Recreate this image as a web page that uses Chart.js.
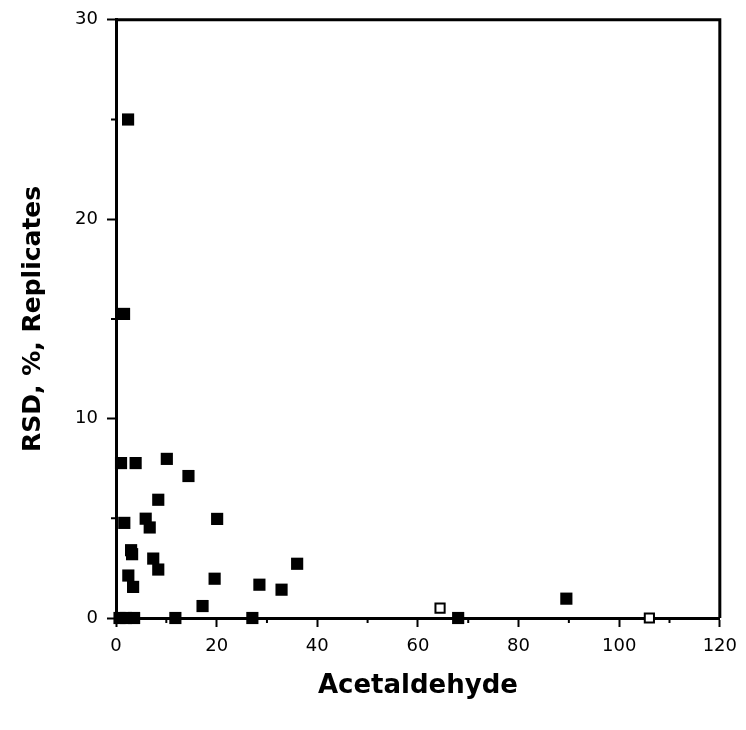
<!DOCTYPE html>
<html>
<head>
<meta charset="utf-8">
<script src="https://cdn.jsdelivr.net/npm/chart.js@4"></script>
<style>
  html, body { margin: 0; padding: 0; background: #fff; }
  #wrap { width: 746px; height: 730px; position: relative; }
</style>
</head>
<body>
<div id="wrap"><canvas id="chart"></canvas></div>
<script>
// Acetaldehyde vs RSD (%) of replicates
const xFilled = [2.4, 1.6, 1.0, 3.9, 10.1, 14.4, 8.4, 1.65, 5.9, 6.7, 20.1,
  3.0, 3.2, 7.4, 8.4, 2.45, 3.4, 19.6, 28.5, 32.9, 36.0, 17.2,
  11.8, 27.1, 0.7, 2.0, 3.6, 68.0, 89.5];
const yFilled = [25.0, 15.25, 7.77, 7.77, 7.98, 7.12, 5.93, 4.77, 4.98, 4.54, 4.97,
  3.4, 3.2, 2.98, 2.43, 2.13, 1.56, 1.97, 1.67, 1.42, 2.72, 0.6,
  0, 0, 0, 0, 0, 0, 0.97];
const xOpen = [64.4, 106.0];
const yOpen = [0.5, 0];

const xTicks = [0, 20, 40, 60, 80, 100, 120];
const yTicks = [0, 10, 20, 30];

function toPoints(xs, ys) {
  return xs.map(function(x, i) { return { x: x, y: ys[i] }; });
}

// ticks menores + moldura superior/direita
const framePlugin = {
  id: 'frame',
  afterDraw: function(chart) {
    const ctx = chart.ctx;
    const a = chart.chartArea;
    const sx = chart.scales.x;
    const sy = chart.scales.y;
    ctx.save();
    ctx.strokeStyle = '#000';
    ctx.lineWidth = 3;
    ctx.beginPath();
    ctx.moveTo(a.left, a.top);
    ctx.lineTo(a.right, a.top);
    ctx.lineTo(a.right, a.bottom);
    ctx.stroke();
    ctx.lineWidth = 2;
    ctx.beginPath();
    for (let v = 10; v < 120; v += 20) {
      const px = sx.getPixelForValue(v);
      ctx.moveTo(px, a.bottom);
      ctx.lineTo(px, a.bottom + 5);
    }
    for (let v = 5; v < 30; v += 10) {
      const py = sy.getPixelForValue(v);
      ctx.moveTo(a.left, py);
      ctx.lineTo(a.left - 5, py);
    }
    ctx.stroke();
    ctx.restore();
  }
};

new Chart(document.getElementById('chart'), {
  type: 'scatter',
  data: {
    datasets: [{
      label: 'filled',
      data: toPoints(xFilled, yFilled),
      pointStyle: 'rect',
      pointRadius: 8.6,
      backgroundColor: '#000',
      borderColor: '#000',
      borderWidth: 0,
      clip: false
    }, {
      label: 'open',
      data: toPoints(xOpen, yOpen),
      pointStyle: 'rect',
      pointRadius: 6.5,
      backgroundColor: '#fff',
      borderColor: '#000',
      borderWidth: 2,
      clip: false
    }]
  },
  options: {
    responsive: true,
    maintainAspectRatio: false,
    animation: false,
    layout: { padding: { left: 0, right: 22, top: 14, bottom: 0 } },
    plugins: {
      legend: { display: false },
      tooltip: { enabled: false }
    },
    scales: {
      x: {
        type: 'linear',
        min: 0,
        max: 120,
        afterBuildTicks: function(scale) {
          scale.ticks = xTicks.map(function(v) { return { value: v }; });
        },
        afterFit: function(scale) { scale.height = 112; },
        border: { color: '#000', width: 3 },
        grid: { drawOnChartArea: false, tickLength: 9, tickColor: '#000', tickWidth: 2 },
        ticks: {
          color: '#000',
          padding: 9,
          maxRotation: 0,
          font: { family: "'DejaVu Sans', sans-serif", size: 18 }
        },
        title: {
          display: true,
          text: 'Acetaldehyde',
          color: '#000',
          font: { family: "'DejaVu Sans', sans-serif", size: 26, weight: 'bold' },
          padding: { top: 0, bottom: 28 }
        }
      },
      y: {
        type: 'linear',
        min: 0,
        max: 30,
        afterBuildTicks: function(scale) {
          scale.ticks = yTicks.map(function(v) { return { value: v }; });
        },
        afterFit: function(scale) { scale.width = 116; },
        border: { color: '#000', width: 3 },
        grid: { drawOnChartArea: false, tickLength: 9, tickColor: '#000', tickWidth: 2 },
        ticks: {
          color: '#000',
          padding: 9,
          font: { family: "'DejaVu Sans', sans-serif", size: 18 }
        },
        title: {
          display: true,
          text: 'RSD, %, Replicates',
          color: '#000',
          font: { family: "'DejaVu Sans', sans-serif", size: 25, weight: 'bold' },
          padding: { top: 18, bottom: 0 }
        }
      }
    }
  },
  plugins: [framePlugin]
});
</script>
</body>
</html>
